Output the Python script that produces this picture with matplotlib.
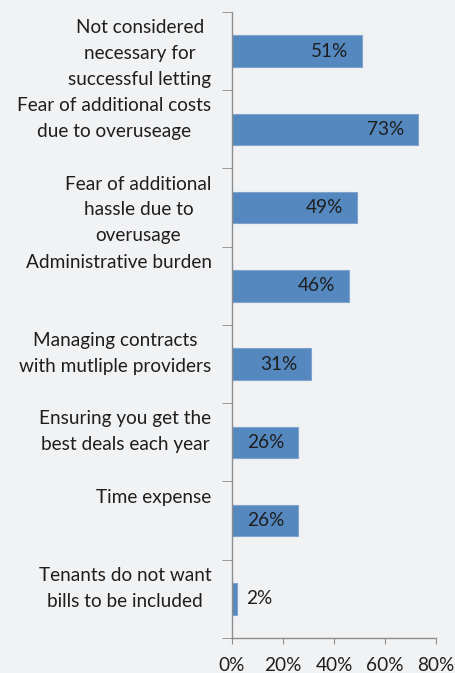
import matplotlib
matplotlib.use("Agg")
import matplotlib.pyplot as plt
import numpy as np

categories = [
    "Not considered\nnecessary for\nsuccessful letting",
    "Fear of additional costs\ndue to overuseage",
    "Fear of additional\nhassle due to\noverusage",
    "Administrative burden",
    "Managing contracts\nwith mutliple providers",
    "Ensuring you get the\nbest deals each year",
    "Time expense",
    "Tenants do not want\nbills to be included",
]
values = [51, 73, 49, 46, 31, 26, 26, 2]
xticks = [0, 20, 40, 60, 80]
xtick_labels = ["0%", "20%", "40%", "60%", "80%"]

bg = "#F1F2F4"
bar_color = "#5588BF"
axis_color = "#8C8C8C"
text_color = "#1E1E1E"

plt.rcParams["font.family"] = ["Lato", "DejaVu Sans"]
fs = 13.7

fig = plt.figure(figsize=(4.56, 6.73), dpi=100, facecolor=bg)
ax = fig.add_axes([0.5088, 0.052, 0.4474, 0.9302], facecolor=bg)

y = np.arange(len(categories))
ax.barh(y, values, height=0.4, color=bar_color, edgecolor="#7FA3CC", linewidth=0.8)

ax.set_xlim(0, 80)
ax.set_ylim(len(categories) - 0.5, -0.5)

for s in ["top", "right"]:
    ax.spines[s].set_visible(False)
for s in ["left", "bottom"]:
    ax.spines[s].set_color(axis_color)
    ax.spines[s].set_linewidth(1.0)

ax.set_xticks(xticks)
ax.set_xticklabels(xtick_labels, fontsize=fs, color=text_color)
ax.tick_params(axis="x", length=4, color=axis_color, pad=10)

# category tick marks sit on the band boundaries
ax.set_yticks(np.arange(len(categories) + 1) - 0.5, minor=True)
ax.tick_params(axis="y", which="minor", length=7, color=axis_color)
ax.set_yticks(y)
ax.set_yticklabels([])
ax.tick_params(axis="y", which="major", length=0)

# category labels: top-aligned inside a three-line block centred on each band
for yi, label in zip(y, categories):
    n = label.count("\n") + 1
    padded = label + "\n" * (3 - n)
    ax.text(-8.0, yi + 0.03, padded, ha="right", va="center", multialignment="center",
            fontsize=fs, color=text_color, linespacing=1.63,
            transform=ax.transData, clip_on=False)

for yi, v in zip(y, values):
    if v >= 10:
        ax.text(v - 5.5, yi, f"{v}%", ha="right", va="center",
                fontsize=fs, color=text_color)
    else:
        ax.text(v + 3.5, yi, f"{v}%", ha="left", va="center",
                fontsize=fs, color=text_color)

fig.savefig("out.png", dpi=100, facecolor=bg)
